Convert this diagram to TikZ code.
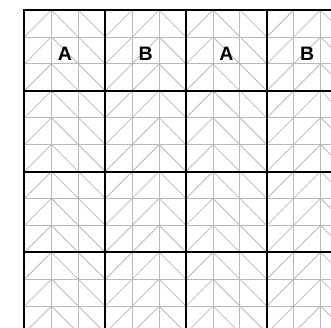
\documentclass[tikz,border=0pt]{standalone}
\usepackage{fontspec}
\setmainfont{Liberation Sans}
\usepackage{tikz}

\begin{document}
\begin{tikzpicture}[x=26.92pt,y=-26.92pt,
  thinline/.style={gray!55,line width=0.8pt},
  heavyline/.style={black,line width=2pt,line cap=rect},
  celllabel/.style={font=\fontsize{19.5}{21}\selectfont\bfseries,inner sep=0pt}]
\useasboundingbox (-0.910,-0.371) rectangle (11.385,11.776);
\clip (-0.910,-0.371) rectangle (11.385,11.776);
\foreach \k in {0,...,12}
  {\draw[thinline] (\k,0) -- (\k,12.5);
   \draw[thinline] (0,\k) -- (12.5,\k);}
\foreach \j in {0,...,11}
  {\foreach \i in {0,3,4,6,9,10} \draw[thinline] (\i,\j+1) -- (\i+1,\j);
   \foreach \i in {1,2,5,7,8,11} \draw[thinline] (\i,\j) -- (\i+1,\j+1);}
\foreach \k in {0,3,...,12}
  {\draw[heavyline] (\k,0) -- (\k,12.5);
   \draw[heavyline] (0,\k) -- (12.5,\k);}
\foreach \c/\t in {0/A, 1/B, 2/A, 3/B}
  \node[celllabel] (label\c) at (3*\c+1.5,1.62) {\t};
\end{tikzpicture}
\end{document}
